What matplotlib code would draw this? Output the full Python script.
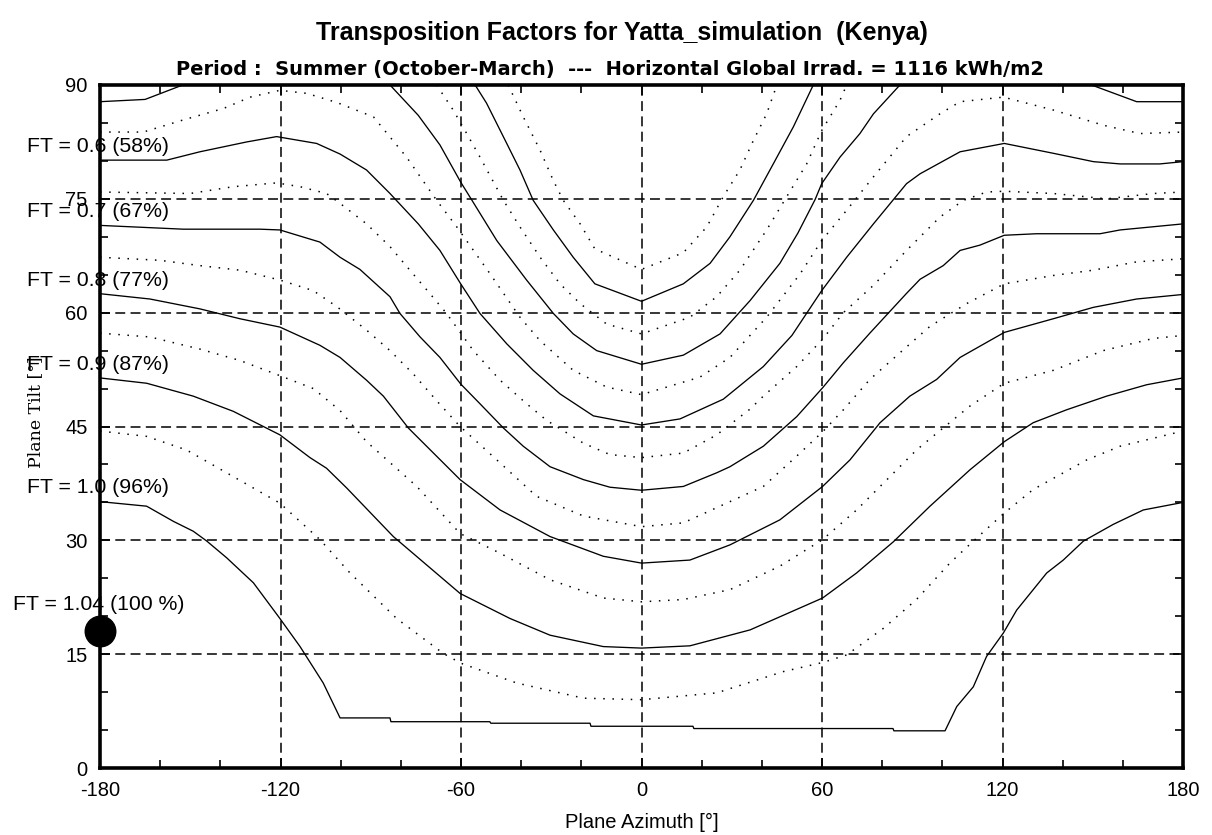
import matplotlib
matplotlib.use('Agg')
import matplotlib.pyplot as plt
from matplotlib.ticker import MultipleLocator

plt.rcParams['font.family'] = ['Liberation Sans', 'DejaVu Sans']
plt.rcParams['axes.unicode_minus'] = False

# Iso-lines of the transposition factor FT, vertices as (azimuth, tilt) in degrees
ft_035 = [(-44.3, 90.0), (-39.3, 85.8), (-33.7, 81.4), (-29.3, 77.4), (-26.0, 74.8), (-20.4, 71.7),
          (-15.5, 68.4), (0.0, 65.7), (13.9, 67.9), (21.7, 71.3), (27.2, 75.3), (32.7, 78.8),
          (37.2, 82.7), (41.6, 86.2), (45.0, 90.0)]
ft_040 = [(-55.3, 90.0), (-51.5, 87.6), (-44.8, 82.3), (-40.4, 78.8), (-36.0, 74.8), (-29.3, 70.9),
          (-22.7, 67.3), (-15.5, 63.8), (0.0, 61.5), (13.9, 63.8), (22.8, 66.5), (29.4, 70.0),
          (37.2, 74.8), (43.8, 79.6), (50.5, 84.5), (57.1, 90.0)]
ft_045 = [(-68.1, 90.0), (-62.6, 86.7), (-58.1, 83.6), (-53.7, 80.5), (-45.9, 74.8), (-40.4, 71.3),
          (-33.7, 67.3), (-27.1, 63.8), (-20.4, 61.2), (-11.6, 58.5), (0.0, 57.2), (16.1, 59.4),
          (25.0, 62.1), (32.7, 65.6), (41.6, 70.9), (48.3, 75.3), (54.9, 79.6), (59.9, 84.0),
          (66.0, 88.0), (68.2, 90.0)]
ft_050_west = [(-180.0, 87.8), (-165.0, 88.1), (-152.5, 90.0)]
ft_050 = [(-83.6, 90.0), (-74.2, 86.0), (-67.0, 82.1), (-60.1, 77.2), (-56.5, 74.9), (-48.1, 69.5),
          (-38.2, 64.3), (-29.3, 59.9), (-22.7, 57.2), (-14.9, 55.0), (0.0, 53.2), (13.9, 54.4),
          (26.1, 57.2), (36.1, 61.6), (46.0, 66.5), (52.0, 70.5), (57.7, 74.9), (59.9, 77.0),
          (66.0, 80.5), (72.6, 83.6), (77.1, 86.2), (85.9, 90.0)]
ft_050_east = [(149.6, 90.0), (164.6, 87.8), (180.0, 87.8)]
ft_055 = [(-180.0, 83.8), (-165.6, 83.8), (-152.3, 85.4), (-139.0, 86.9), (-130.1, 88.4),
          (-120.2, 89.3), (-111.3, 88.9), (-101.3, 87.7), (-89.1, 85.8), (-78.1, 80.5),
          (-68.1, 74.8), (-61.4, 71.3), (-50.3, 65.1), (-40.4, 59.4), (-33.7, 56.3), (-22.7, 52.4),
          (-11.6, 50.2), (0.0, 49.2), (19.4, 51.5), (29.4, 54.1), (41.6, 59.4), (52.7, 65.1),
          (59.9, 69.5), (68.2, 73.5), (77.1, 77.9), (88.1, 83.2), (99.2, 86.2), (105.9, 87.8),
          (120.3, 88.4), (136.9, 86.7), (153.5, 84.7), (165.7, 83.6), (180.0, 83.8)]
ft_060 = [(-180.0, 80.1), (-157.8, 80.1), (-146.8, 81.2), (-131.2, 82.5), (-121.3, 83.2),
          (-108.0, 82.3), (-100.2, 80.9), (-91.4, 78.8), (-83.6, 75.7), (-74.2, 71.7), (-67.0, 68.2),
          (-60.1, 63.8), (-53.7, 59.9), (-44.8, 55.9), (-36.0, 52.4), (-27.1, 49.3), (-16.0, 46.4),
          (0.0, 45.2), (12.8, 46.0), (27.2, 48.6), (40.5, 52.9), (50.0, 57.0), (59.9, 62.9),
          (68.2, 67.3), (77.1, 71.7), (88.1, 77.0), (92.6, 78.3), (105.9, 81.2), (120.6, 82.3),
          (136.9, 81.0), (150.2, 79.9), (159.1, 79.6), (172.3, 79.6), (180.0, 79.9)]
ft_065 = [(-180.0, 75.9), (-150.1, 75.7), (-135.7, 76.6), (-121.3, 77.1), (-113.5, 76.6),
          (-104.7, 75.7), (-100.2, 74.4), (-91.4, 71.7), (-83.6, 68.7), (-77.0, 65.6), (-70.3, 62.5),
          (-64.8, 59.9), (-55.9, 55.0), (-47.0, 51.1), (-38.2, 48.0), (-31.5, 45.8), (-19.3, 42.8),
          (-10.5, 41.3), (0.0, 40.9), (13.9, 41.5), (25.0, 43.9), (36.1, 47.3), (40.5, 49.0),
          (51.6, 52.9), (60.2, 56.5), (67.1, 60.0), (77.1, 63.6), (88.1, 68.2), (99.2, 72.6),
          (107.0, 74.8), (114.7, 75.9), (120.6, 76.0), (136.9, 75.7), (154.6, 75.0), (170.1, 75.7),
          (180.0, 75.9)]
ft_070 = [(-180.0, 71.5), (-152.3, 71.0), (-126.8, 71.0), (-120.2, 70.9), (-106.9, 69.3),
          (-100.2, 67.3), (-93.6, 65.7), (-83.6, 62.1), (-80.3, 59.9), (-73.6, 56.8), (-67.0, 54.1),
          (-60.1, 50.6), (-53.7, 48.0), (-45.9, 44.8), (-39.3, 42.4), (-30.4, 39.7), (-19.3, 38.0),
          (-10.5, 37.0), (0.0, 36.6), (13.9, 37.1), (25.0, 38.9), (29.4, 39.7), (40.5, 42.4),
          (51.6, 46.3), (60.2, 50.1), (67.1, 53.4), (75.9, 57.3), (88.0, 62.5), (92.6, 64.4),
          (100.3, 66.2), (105.9, 68.2), (112.5, 68.9), (120.6, 70.2), (131.3, 70.4), (152.4, 70.4),
          (159.1, 70.9), (180.0, 71.7)]
ft_075 = [(-180.0, 67.3), (-160.1, 66.9), (-146.8, 66.2), (-133.5, 65.6), (-120.2, 64.3),
          (-109.1, 62.9), (-101.3, 60.8), (-91.4, 57.7), (-83.6, 55.0), (-75.8, 51.9), (-68.1, 48.4),
          (-60.3, 45.0), (-47.0, 40.2), (-34.9, 35.8), (-19.3, 33.2), (0.0, 31.8), (13.9, 32.3),
          (29.4, 35.1), (40.5, 37.1), (51.6, 41.1), (60.2, 44.3), (67.1, 47.2), (75.9, 51.2),
          (87.0, 55.1), (95.9, 58.2), (108.1, 61.2), (120.6, 63.8), (136.9, 64.9), (150.2, 65.6),
          (164.6, 66.7), (180.0, 67.1)]
ft_080 = [(-180.0, 62.5), (-163.4, 61.8), (-146.8, 60.5), (-133.5, 59.2), (-120.2, 58.1),
          (-106.9, 55.7), (-100.2, 54.1), (-91.4, 51.1), (-85.8, 49.0), (-77.5, 44.8), (-60.3, 38.0),
          (-47.0, 34.0), (-30.4, 30.5), (-12.7, 27.9), (0.0, 27.0), (16.1, 27.4), (29.4, 29.4),
          (46.0, 32.7), (60.2, 37.1), (69.3, 40.6), (79.3, 45.5), (89.2, 49.0), (98.1, 51.2),
          (105.9, 54.1), (120.6, 57.4), (136.9, 59.2), (150.2, 60.7), (164.6, 61.8), (180.0, 62.4)]
ft_085 = [(-180.0, 57.3), (-163.4, 56.8), (-146.8, 55.2), (-133.5, 53.7), (-120.2, 51.7),
          (-109.1, 50.0), (-100.2, 47.1), (-91.4, 43.0), (-74.7, 37.1), (-60.3, 30.9), (-47.0, 28.3),
          (-30.4, 24.8), (-12.7, 22.4), (0.0, 21.9), (13.9, 22.2), (29.4, 23.5), (46.0, 26.6),
          (60.2, 30.1), (71.5, 34.0), (82.6, 38.4), (91.4, 41.9), (98.1, 44.1), (109.2, 47.7),
          (120.6, 50.7), (136.9, 52.4), (153.5, 55.0), (170.1, 56.6), (180.0, 57.0)]
ft_090 = [(-180.0, 51.4), (-164.5, 50.7), (-149.0, 49.0), (-135.7, 47.0), (-120.2, 43.9),
          (-110.2, 40.9), (-104.7, 39.5), (-98.0, 36.9), (-82.5, 30.5), (-60.3, 23.0), (-43.7, 19.7),
          (-30.4, 17.5), (-12.7, 16.0), (0.0, 15.8), (16.1, 16.1), (36.1, 18.2), (60.2, 22.4),
          (71.5, 25.7), (83.7, 29.8), (95.9, 34.5), (109.2, 39.3), (120.6, 43.0), (130.2, 45.5),
          (141.3, 47.2), (154.6, 49.0), (167.9, 50.5), (180.0, 51.4)]
ft_095 = [(-180.0, 44.4), (-164.5, 43.7), (-151.2, 41.9), (-135.7, 38.4), (-120.2, 34.9),
          (-106.9, 30.1), (-96.9, 25.7), (-81.4, 19.7), (-65.9, 15.1), (-60.0, 13.8), (-41.5, 11.2),
          (-19.3, 9.2), (0.0, 9.0), (25.0, 9.9), (47.1, 12.7), (60.2, 13.9), (68.2, 14.9),
          (80.4, 18.4), (91.4, 22.2), (102.5, 27.0), (110.3, 29.9), (120.6, 33.6), (130.2, 36.7),
          (148.0, 40.6), (159.1, 42.4), (180.0, 44.4)]
ft_100 = [(-180.0, 35.1), (-164.5, 34.5), (-155.6, 32.5), (-149.0, 31.2), (-144.5, 29.9),
          (-137.9, 27.7), (-129.0, 24.4), (-120.2, 19.7), (-113.5, 16.0), (-105.8, 11.2),
          (-100.2, 6.6), (-83.6, 6.6), (-83.3, 6.1), (-50.4, 6.1), (-50.1, 5.9), (-17.1, 5.9),
          (-16.8, 5.5), (17.1, 5.5), (17.4, 5.2), (83.6, 5.2), (83.9, 4.9), (100.9, 4.9),
          (104.8, 8.1), (110.3, 10.7), (114.7, 14.7), (120.3, 17.8), (124.7, 20.8), (134.7, 25.7),
          (140.2, 27.4), (146.9, 29.9), (156.8, 32.1), (166.8, 34.0), (180.0, 35.0)]

# (level, pieces); levels on the 0.1 grid are solid, the intermediate ones dotted
iso_lines = [
    (0.35, [ft_035]), (0.40, [ft_040]), (0.45, [ft_045]),
    (0.50, [ft_050_west, ft_050, ft_050_east]), (0.55, [ft_055]),
    (0.60, [ft_060]), (0.65, [ft_065]), (0.70, [ft_070]), (0.75, [ft_075]),
    (0.80, [ft_080]), (0.85, [ft_085]), (0.90, [ft_090]), (0.95, [ft_095]),
    (1.00, [ft_100]),
]
labelled_levels = [0.6, 0.7, 0.8, 0.9, 1.0]

# optimum orientation
opt_azimuth = -180.0
opt_tilt = 18.0
opt_ft = 1.04

site = 'Yatta_simulation'
country = 'Kenya'
period = 'Summer (October-March)'
ghi = 1116

fig = plt.figure(figsize=(12.12, 8.35), dpi=100)
ax = fig.add_axes([100 / 1212, 67 / 835, 1083 / 1212, 683 / 835])

for level, pieces in iso_lines:
    solid = abs(level * 10 - round(level * 10)) < 1e-6
    for piece in pieces:
        az = [p[0] for p in piece]
        tilt = [p[1] for p in piece]
        if solid:
            ax.plot(az, tilt, color='black', lw=0.95, zorder=3)
        else:
            ax.plot(az, tilt, color='black', lw=1.1, ls=(0, (1.0, 5.0)), zorder=3)
    if any(abs(level - l) < 1e-6 for l in labelled_levels):
        y0 = pieces[0][0][1]
        ax.text(-204.3, y0 + 1.8, 'FT = %.1f (%d%%)' % (level, round(100 * level / opt_ft)),
                fontsize=15.3, ha='left', va='center', clip_on=False, zorder=2)

ax.plot(opt_azimuth, opt_tilt, 'o', color='black', ms=22, clip_on=False, zorder=6)
ax.text(-208.9, opt_tilt + 3.6, 'FT = %.2f (100 %%)' % opt_ft, fontsize=15.3,
        ha='left', va='center', clip_on=False, zorder=2)

ax.set_xlim(-180, 180)
ax.set_ylim(0, 90)
ax.xaxis.set_major_locator(MultipleLocator(60))
ax.xaxis.set_minor_locator(MultipleLocator(20))
ax.yaxis.set_major_locator(MultipleLocator(15))
ax.yaxis.set_minor_locator(MultipleLocator(5))
ax.tick_params(which='both', direction='in', top=True, right=True, width=1.2,
               labelsize=14.5, pad=9, color='black')
ax.tick_params(which='major', length=7)
ax.tick_params(which='minor', length=6)
ax.grid(True, which='major', color='black', lw=1.1, ls=(0, (6.5, 3.5)))
for s in ax.spines.values():
    s.set_linewidth(2.6)
    s.set_zorder(4)

ax.set_xlabel('Plane Azimuth [°]', fontsize=14.5, labelpad=10)
fig.text(36 / 1212, 1 - 412 / 835, 'Plane Tilt [°]', rotation=90, ha='center', va='center',
         fontsize=12.5, family=['DejaVu Serif'])

fig.text(622 / 1212, 1 - 33 / 835, 'Transposition Factors for %s  (%s)' % (site, country),
         ha='center', va='center', fontsize=18, fontweight='bold')
fig.text(610 / 1212, 1 - 69 / 835,
         'Period :  %s  ---  Horizontal Global Irrad. = %d kWh/m2' % (period, ghi),
         ha='center', va='center', fontsize=14, fontweight='bold', family=['DejaVu Sans'])

fig.savefig('out.png', dpi=100)
